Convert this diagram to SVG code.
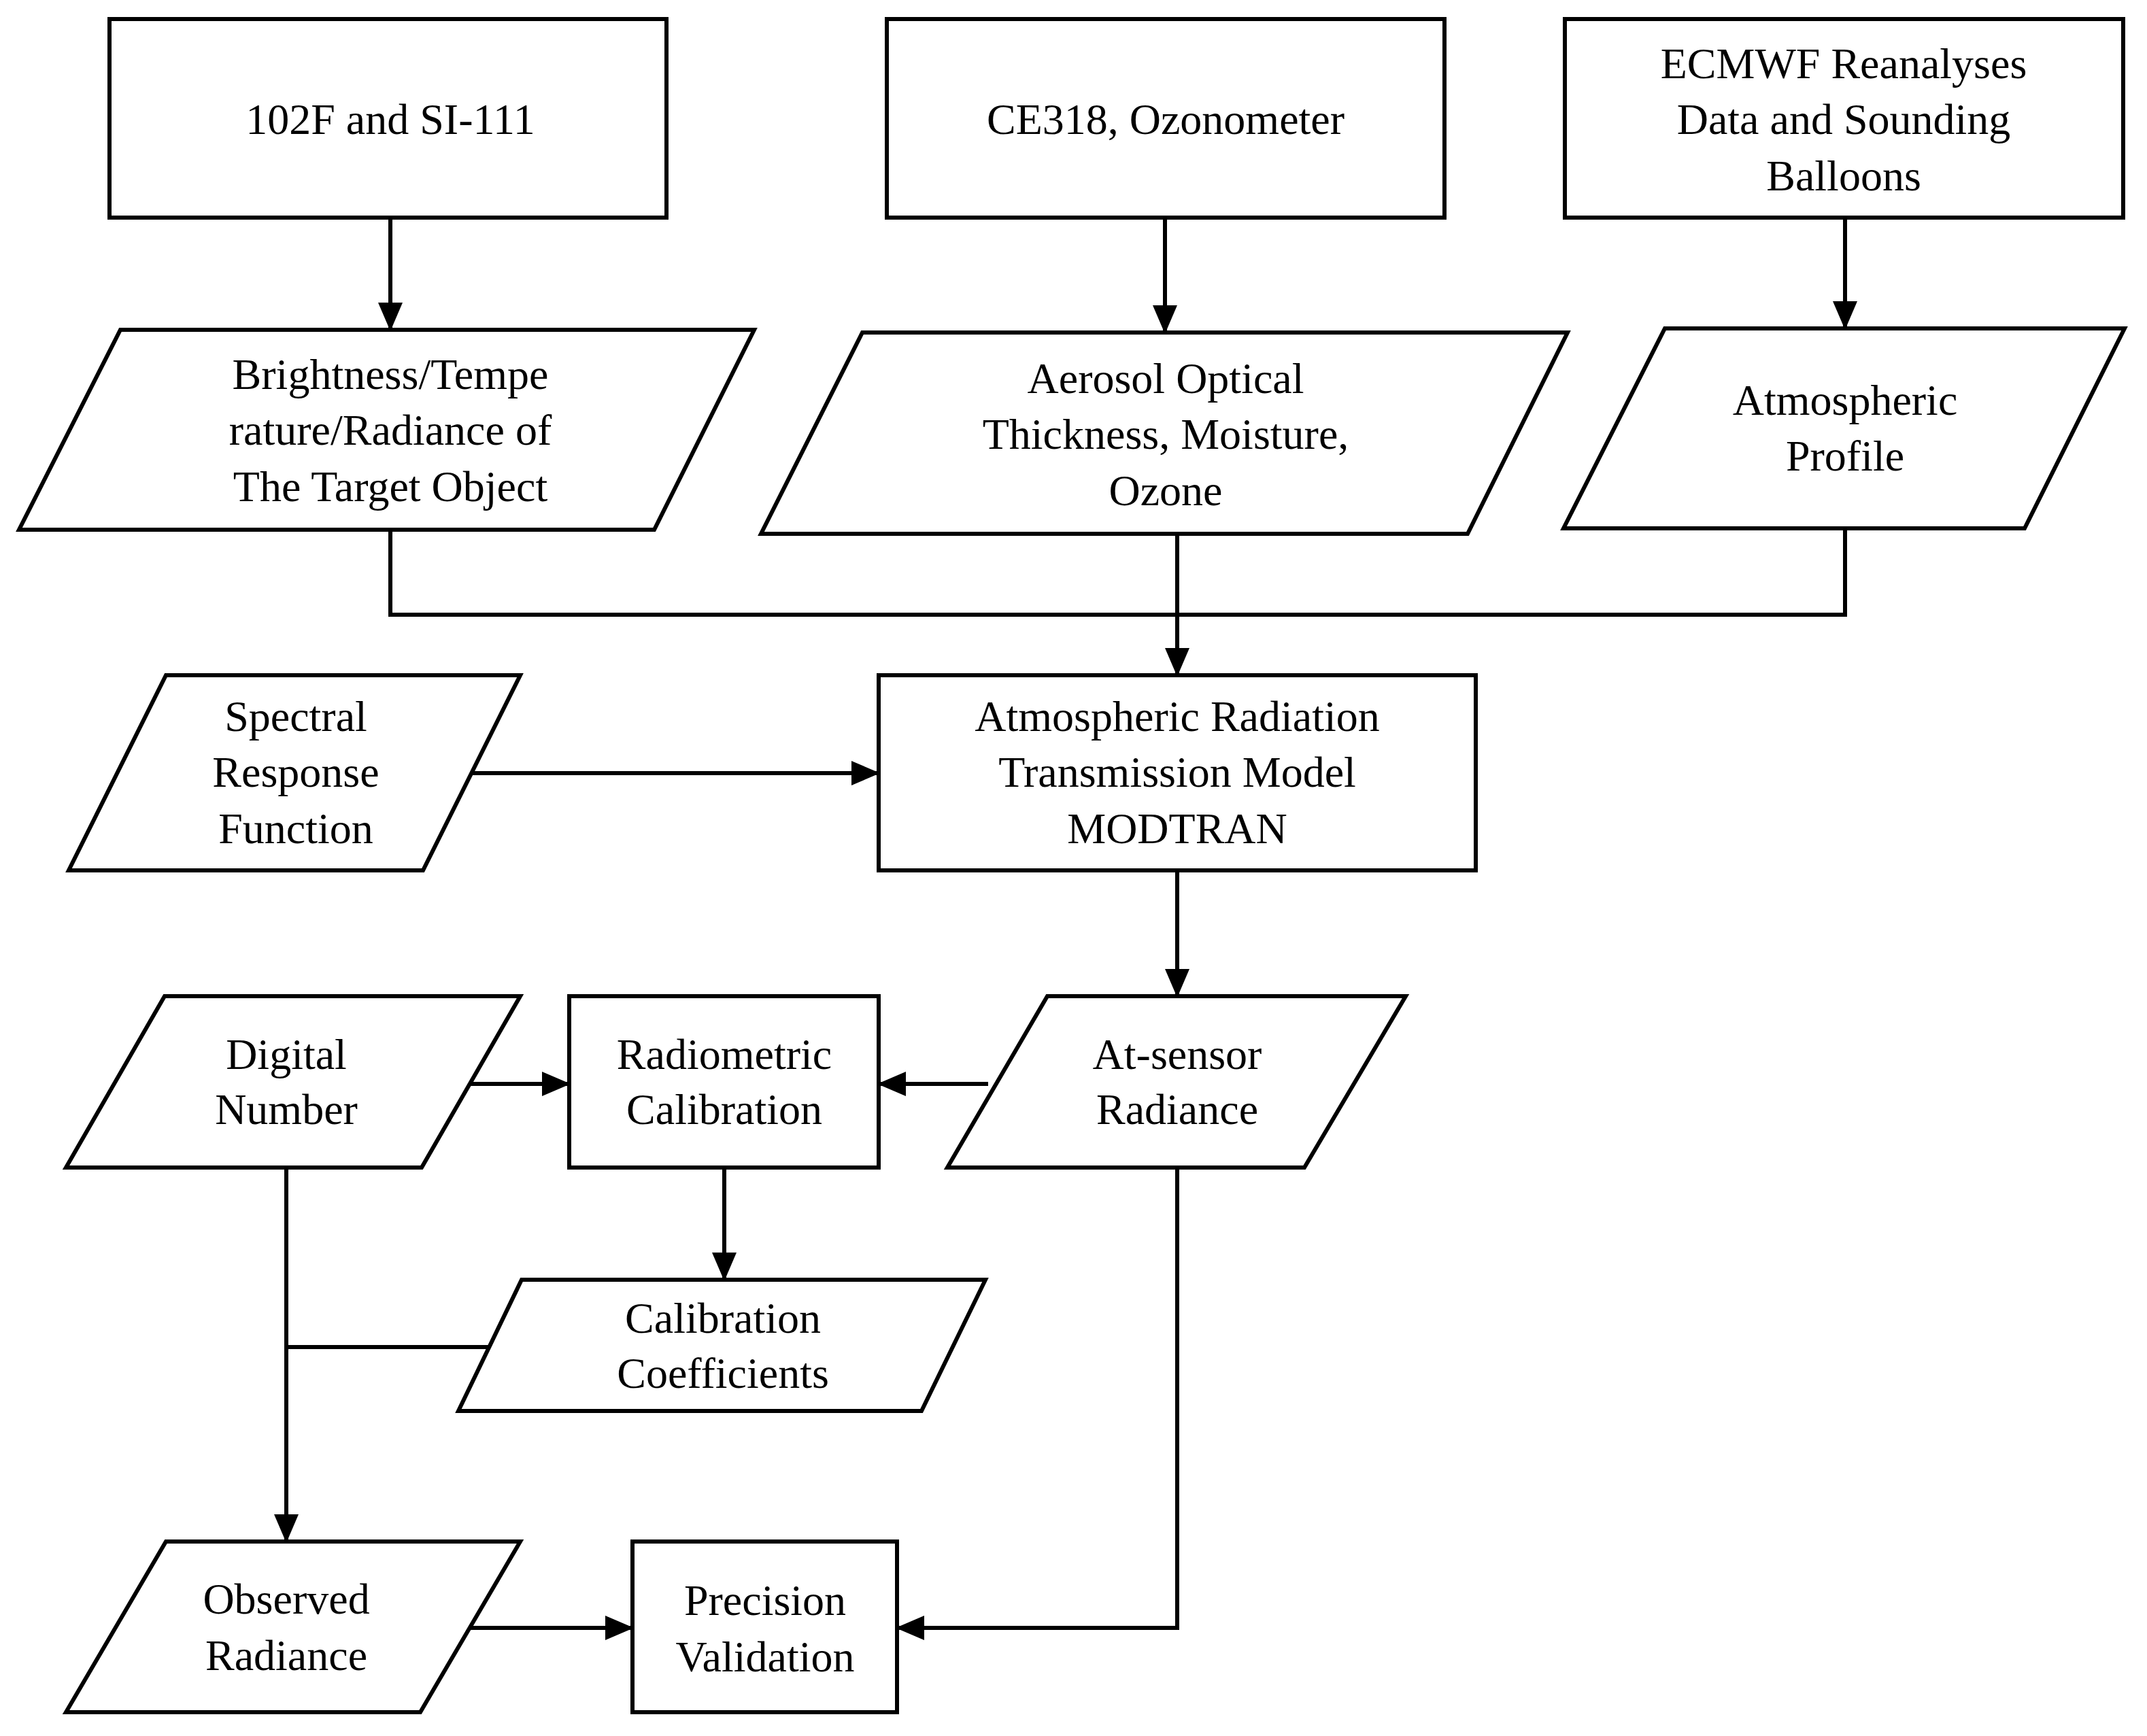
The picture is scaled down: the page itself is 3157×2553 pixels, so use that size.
<svg xmlns="http://www.w3.org/2000/svg" width="3157" height="2553" viewBox="0 0 3157 2553">
<style>
.n{fill:#fff;stroke:#000;stroke-width:6}
.c{fill:none;stroke:#000;stroke-width:6}
text{font-family:"Liberation Serif","DejaVu Serif",serif;font-size:64px;text-anchor:middle;dominant-baseline:central;fill:#000}
</style>
<defs><marker id="a" markerUnits="userSpaceOnUse" markerWidth="44" markerHeight="36" refX="40" refY="18" orient="auto"><path d="M0,0 L42,18 L0,36 Z" fill="#000"/></marker></defs>
<rect width="3157" height="2553" fill="#fff"/>
<g id="connectors">
<path class="c" d="M574,320 V485" marker-end="url(#a)"/>
<path class="c" d="M1713,320 V489" marker-end="url(#a)"/>
<path class="c" d="M2713,320 V483" marker-end="url(#a)"/>
<path class="c" d="M574,779 V904 H2713 V777"/>
<path class="c" d="M1731,785 V993" marker-end="url(#a)"/>
<path class="c" d="M694,1137 H1292" marker-end="url(#a)"/>
<path class="c" d="M1731,1280 V1465" marker-end="url(#a)"/>
<path class="c" d="M684,1594 H837" marker-end="url(#a)"/>
<path class="c" d="M1453,1594 H1292" marker-end="url(#a)"/>
<path class="c" d="M1065,1717 V1882" marker-end="url(#a)"/>
<path class="c" d="M421,1717 V2267" marker-end="url(#a)"/>
<path class="c" d="M421,1981 H721"/>
<path class="c" d="M684,2394 H930" marker-end="url(#a)"/>
<path class="c" d="M1731,1717 V2394 H1319" marker-end="url(#a)"/>
</g>
<g id="n1"><rect class="n" x="161" y="28" width="819" height="292"/><text x="574" y="175">102F and SI-111</text></g>
<g id="n2"><rect class="n" x="1304" y="28" width="820" height="292"/><text x="1714" y="175">CE318, Ozonometer</text></g>
<g id="n3"><rect class="n" x="2301" y="28" width="821" height="292"/><text x="2711" y="93">ECMWF Reanalyses</text><text x="2711" y="175">Data and Sounding</text><text x="2711" y="258">Balloons</text></g>
<g id="n4"><polygon class="n" points="177,485 1109,485 962,779 28,779"/><text x="574" y="550">Brightness/Tempe</text><text x="574" y="632">rature/Radiance of</text><text x="574" y="715">The Target Object</text></g>
<g id="n5"><polygon class="n" points="1268,489 2305,489 2158,785 1119,785"/><text x="1714" y="556">Aerosol Optical</text><text x="1714" y="638">Thickness, Moisture,</text><text x="1714" y="721">Ozone</text></g>
<g id="n6"><polygon class="n" points="2448,483 3124,483 2977,777 2299,777"/><text x="2713" y="588">Atmospheric</text><text x="2713" y="670">Profile</text></g>
<g id="n7"><rect class="n" x="1292" y="993" width="878" height="287"/><text x="1731" y="1053">Atmospheric Radiation</text><text x="1731" y="1135">Transmission Model</text><text x="1731" y="1218">MODTRAN</text></g>
<g id="n8"><polygon class="n" points="244,993 765,993 622,1280 101,1280"/><text x="435" y="1053">Spectral</text><text x="435" y="1135">Response</text><text x="435" y="1218">Function</text></g>
<g id="n9"><polygon class="n" points="242,1465 765,1465 620,1717 97,1717"/><text x="421" y="1550">Digital</text><text x="421" y="1631">Number</text></g>
<g id="n10"><rect class="n" x="837" y="1465" width="455" height="252"/><text x="1065" y="1550">Radiometric</text><text x="1065" y="1631">Calibration</text></g>
<g id="n11"><polygon class="n" points="1540,1465 2067,1465 1918,1717 1393,1717"/><text x="1731" y="1550">At-sensor</text><text x="1731" y="1631">Radiance</text></g>
<g id="n12"><polygon class="n" points="767,1882 1449,1882 1355,2075 674,2075"/><text x="1063" y="1938">Calibration</text><text x="1063" y="2019">Coefficients</text></g>
<g id="n13"><polygon class="n" points="244,2267 765,2267 618,2518 97,2518"/><text x="421" y="2351">Observed</text><text x="421" y="2434">Radiance</text></g>
<g id="n14"><rect class="n" x="930" y="2267" width="389" height="251"/><text x="1125" y="2353">Precision</text><text x="1125" y="2436">Validation</text></g>
</svg>
